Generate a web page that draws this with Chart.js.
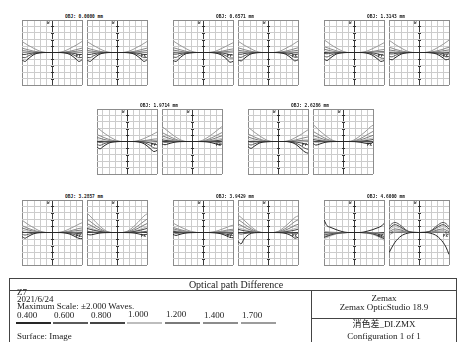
<!DOCTYPE html>
<html><head><meta charset="utf-8">
<script src="https://cdn.jsdelivr.net/npm/chart.js@4"></script>
<style>
html,body{margin:0;padding:0;background:#fff;}
body{width:458px;height:342px;position:relative;overflow:hidden;font-family:"Liberation Serif","Times New Roman",serif;}
canvas{position:absolute;}
.tiny{position:absolute;font-family:"DejaVu Sans Mono",monospace;font-weight:bold;font-size:8px;line-height:1;transform:scale(0.5);white-space:nowrap;color:#222;}
.ttl{font-size:9px;}
.tb{position:absolute;white-space:nowrap;font-size:9px;line-height:1;color:#1a1a1a;}
.ln{position:absolute;background:#444;}
</style></head><body>
<script>
// ---------- data ----------
const FIELDS = ['0.0000','0.6571','1.3143','1.9714','2.6286','3.2857','3.9429','4.6000'];
const WAVELENGTHS = ['0.400','0.600','0.800','1.000','1.200','1.400','1.700'];
const PUPIL = [-1,-0.9,-0.8,-0.6,-0.4,-0.2,0,0.2,0.4,0.6,0.8,0.9,1];
const MAX_SCALE = 2;

const g1_py = [
 [-0.45,-0.55,-0.4,-0.12,-0.02,0,0,0,-0.02,-0.12,-0.4,-0.55,-0.45],
 [-0.3,-0.32,-0.22,-0.06,-0.01,0,0,0,-0.01,-0.06,-0.22,-0.32,-0.3],
 [-0.12,-0.12,-0.08,-0.02,0,0,0,0,0,-0.02,-0.08,-0.12,-0.12],
 [0.02,0.02,0.01,0,0,0,0,0,0,0,0.01,0.02,0.02],
 [0.12,0.1,0.07,0.03,0.01,0,0,0,0.01,0.03,0.07,0.1,0.12],
 [0.27,0.22,0.17,0.08,0.02,0,0,0,0.02,0.08,0.17,0.22,0.27],
 [0.68,0.56,0.45,0.25,0.08,0,0,0,0.08,0.25,0.45,0.56,0.68]];
const g1_px = [
 [-0.45,-0.55,-0.4,-0.12,-0.02,0,0,0,-0.02,-0.12,-0.4,-0.55,-0.45],
 [-0.3,-0.32,-0.22,-0.06,-0.01,0,0,0,-0.01,-0.06,-0.22,-0.32,-0.3],
 [-0.12,-0.12,-0.08,-0.02,0,0,0,0,0,-0.02,-0.08,-0.12,-0.12],
 [0.02,0.02,0.01,0,0,0,0,0,0,0,0.01,0.02,0.02],
 [0.12,0.1,0.07,0.03,0.01,0,0,0,0.01,0.03,0.07,0.1,0.12],
 [0.27,0.22,0.17,0.08,0.02,0,0,0,0.02,0.08,0.17,0.22,0.27],
 [0.68,0.56,0.45,0.25,0.08,0,0,0,0.08,0.25,0.45,0.56,0.68]];
const g2_py = [
 [-0.5,-0.55,-0.38,-0.1,-0.02,0,0,0,-0.03,-0.14,-0.42,-0.6,-0.55],
 [-0.28,-0.3,-0.2,-0.05,-0.01,0,0,0,-0.01,-0.07,-0.24,-0.34,-0.34],
 [-0.1,-0.1,-0.07,-0.02,0,0,0,0,0,-0.02,-0.09,-0.14,-0.15],
 [0.04,0.03,0.02,0,0,0,0,0,0,0,0.01,0.01,0],
 [0.15,0.12,0.08,0.03,0.01,0,0,0,0.01,0.03,0.06,0.08,0.09],
 [0.3,0.25,0.19,0.09,0.02,0,0,0,0.02,0.07,0.15,0.19,0.22],
 [0.72,0.6,0.48,0.27,0.09,0,0,0,0.07,0.23,0.41,0.51,0.6]];
const g2_px = [
 [-0.45,-0.52,-0.38,-0.11,-0.02,0,0,0,-0.02,-0.11,-0.38,-0.52,-0.45],
 [-0.28,-0.3,-0.21,-0.06,-0.01,0,0,0,-0.01,-0.06,-0.21,-0.3,-0.28],
 [-0.1,-0.11,-0.07,-0.02,0,0,0,0,0,-0.02,-0.07,-0.11,-0.1],
 [0.03,0.03,0.02,0,0,0,0,0,0,0,0.02,0.03,0.03],
 [0.14,0.11,0.08,0.03,0.01,0,0,0,0.01,0.03,0.08,0.11,0.14],
 [0.29,0.24,0.18,0.09,0.02,0,0,0,0.02,0.09,0.18,0.24,0.29],
 [0.7,0.58,0.46,0.26,0.08,0,0,0,0.08,0.26,0.46,0.58,0.7]];
const g3_py = [
 [-0.4,-0.5,-0.36,-0.1,-0.02,0,0,0,-0.03,-0.15,-0.42,-0.55,-0.5],
 [-0.22,-0.28,-0.19,-0.05,-0.01,0,0,0,-0.01,-0.07,-0.24,-0.34,-0.36],
 [-0.06,-0.08,-0.05,-0.01,0,0,0,0,0,-0.02,-0.09,-0.14,-0.17],
 [0.07,0.05,0.03,0.01,0,0,0,0,0,0,0,-0.01,-0.02],
 [0.2,0.16,0.11,0.04,0.01,0,0,0,0.01,0.03,0.05,0.06,0.06],
 [0.36,0.3,0.23,0.11,0.03,0,0,0,0.02,0.06,0.13,0.16,0.18],
 [0.78,0.66,0.52,0.29,0.1,0,0,0,0.07,0.22,0.4,0.5,0.6]];
const g3_px = [
 [-0.4,-0.45,-0.33,-0.1,-0.02,0,0,0,-0.02,-0.1,-0.33,-0.45,-0.4],
 [-0.25,-0.27,-0.18,-0.05,-0.01,0,0,0,-0.01,-0.05,-0.18,-0.27,-0.25],
 [-0.08,-0.09,-0.06,-0.02,0,0,0,0,0,-0.02,-0.06,-0.09,-0.08],
 [0.05,0.04,0.03,0.01,0,0,0,0,0,0.01,0.03,0.04,0.05],
 [0.16,0.13,0.1,0.04,0.01,0,0,0,0.01,0.04,0.1,0.13,0.16],
 [0.32,0.27,0.2,0.1,0.03,0,0,0,0.03,0.1,0.2,0.27,0.32],
 [0.76,0.63,0.5,0.28,0.09,0,0,0,0.09,0.28,0.5,0.63,0.76]];
const g4_py = [
 [-0.35,-0.45,-0.32,-0.09,-0.02,0,0,0,-0.03,-0.17,-0.48,-0.62,-0.55],
 [-0.18,-0.24,-0.16,-0.04,-0.01,0,0,0,-0.02,-0.08,-0.28,-0.4,-0.42],
 [-0.02,-0.05,-0.03,-0.01,0,0,0,0,0,-0.03,-0.1,-0.16,-0.2],
 [0.1,0.08,0.05,0.02,0,0,0,0,0,0,-0.01,-0.03,-0.05],
 [0.25,0.2,0.14,0.06,0.01,0,0,0,0.01,0.03,0.04,0.04,0.03],
 [0.42,0.35,0.27,0.13,0.04,0,0,0,0.02,0.06,0.12,0.15,0.16],
 [0.85,0.72,0.57,0.32,0.11,0,0,0,0.07,0.21,0.38,0.48,0.58]];
const g4_px = [
 [-0.15,-0.2,-0.15,-0.05,-0.01,0,0,0,-0.01,-0.05,-0.15,-0.2,-0.15],
 [-0.02,-0.05,-0.04,-0.01,0,0,0,0,0,-0.01,-0.04,-0.05,-0.02],
 [0.1,0.07,0.05,0.02,0,0,0,0,0,0.02,0.05,0.07,0.1],
 [0.2,0.16,0.12,0.05,0.01,0,0,0,0.01,0.05,0.12,0.16,0.2],
 [0.35,0.29,0.22,0.1,0.03,0,0,0,0.03,0.1,0.22,0.29,0.35],
 [0.55,0.46,0.36,0.18,0.05,0,0,0,0.05,0.18,0.36,0.46,0.55],
 [0.92,0.78,0.63,0.35,0.12,0,0,0,0.12,0.35,0.63,0.78,0.92]];
const g5_py = [
 [-0.32,-0.42,-0.3,-0.08,-0.02,0,0,0,-0.03,-0.18,-0.5,-0.65,-0.72],
 [-0.15,-0.22,-0.15,-0.04,-0.01,0,0,0,-0.02,-0.1,-0.3,-0.42,-0.48],
 [0,-0.03,-0.02,0,0,0,0,0,0,-0.03,-0.1,-0.15,-0.2],
 [0.12,0.09,0.06,0.02,0,0,0,0,0,0,0,-0.01,-0.02],
 [0.28,0.22,0.16,0.07,0.02,0,0,0,0.01,0.04,0.07,0.08,0.08],
 [0.46,0.38,0.29,0.14,0.04,0,0,0,0.03,0.1,0.2,0.24,0.28],
 [0.88,0.74,0.59,0.33,0.11,0,0,0,0.08,0.26,0.47,0.6,0.72]];
const g5_px = [
 [-0.12,-0.22,-0.17,-0.05,-0.01,0,0,0,-0.01,-0.05,-0.12,-0.12,-0.05],
 [0,-0.03,-0.02,-0.01,0,0,0,0,0,-0.01,-0.02,-0.03,0],
 [0.12,0.09,0.06,0.02,0,0,0,0,0,0.02,0.06,0.09,0.12],
 [0.22,0.18,0.13,0.06,0.01,0,0,0,0.01,0.06,0.13,0.18,0.22],
 [0.38,0.31,0.24,0.11,0.03,0,0,0,0.03,0.11,0.24,0.31,0.38],
 [0.62,0.52,0.41,0.2,0.06,0,0,0,0.06,0.2,0.41,0.52,0.62],
 [1.05,0.88,0.7,0.39,0.13,0,0,0,0.13,0.39,0.7,0.88,1.0]];
const g6_py = [
 [-0.25,-0.35,-0.25,-0.07,-0.01,0,0,0,-0.02,-0.1,-0.28,-0.36,-0.38],
 [-0.1,-0.16,-0.11,-0.03,0,0,0,0,-0.01,-0.05,-0.16,-0.22,-0.24],
 [0.04,0,0,0,0,0,0,0,0,-0.01,-0.05,-0.07,-0.08],
 [0.15,0.11,0.08,0.03,0,0,0,0,0,0.01,0.03,0.04,0.05],
 [0.28,0.22,0.16,0.07,0.02,0,0,0,0.01,0.05,0.11,0.13,0.15],
 [0.42,0.34,0.26,0.13,0.04,0,0,0,0.03,0.1,0.2,0.25,0.28],
 [0.76,0.63,0.5,0.28,0.09,0,0,0,0.08,0.24,0.42,0.52,0.6]];
const g6_px = [
 [-0.1,-0.15,-0.12,-0.04,-0.01,0,0,0,-0.01,-0.04,-0.12,-0.15,-0.1],
 [0.08,0.05,0.03,0.01,0,0,0,0,0,0.01,0.03,0.05,0.08],
 [0.25,0.2,0.15,0.07,0.02,0,0,0,0.02,0.07,0.15,0.2,0.25],
 [0.35,0.29,0.22,0.1,0.03,0,0,0,0.03,0.1,0.22,0.29,0.35],
 [0.55,0.46,0.36,0.17,0.05,0,0,0,0.05,0.17,0.36,0.46,0.55],
 [0.82,0.69,0.55,0.28,0.08,0,0,0,0.08,0.28,0.55,0.69,0.82],
 [1.2,1.02,0.82,0.44,0.14,0,0,0,0.14,0.44,0.82,1.02,1.15]];
const g7_py = [
 [-0.12,-0.18,-0.13,-0.04,-0.01,0,0,0,-0.02,-0.08,-0.22,-0.3,-0.32],
 [0,-0.05,-0.04,-0.01,0,0,0,0,-0.01,-0.04,-0.12,-0.16,-0.18],
 [0.08,0.05,0.03,0.01,0,0,0,0,0,-0.01,-0.03,-0.05,-0.06],
 [0.14,0.11,0.08,0.03,0.01,0,0,0,0,0.01,0.03,0.04,0.04],
 [0.22,0.18,0.13,0.06,0.02,0,0,0,0.01,0.04,0.08,0.1,0.11],
 [0.32,0.26,0.2,0.1,0.03,0,0,0,0.02,0.07,0.15,0.18,0.2],
 [0.58,0.48,0.38,0.21,0.07,0,0,0,0.06,0.18,0.32,0.4,0.45]];
const g7_px = [
 [-0.55,-0.7,-0.4,-0.08,-0.01,0,0,0,-0.01,-0.06,-0.22,-0.35,-0.3],
 [-0.05,-0.1,-0.07,-0.02,0,0,0,0,0,-0.02,-0.05,-0.08,-0.05],
 [0.2,0.15,0.11,0.05,0.01,0,0,0,0.01,0.05,0.11,0.15,0.2],
 [0.3,0.25,0.19,0.09,0.02,0,0,0,0.02,0.09,0.19,0.25,0.3],
 [0.52,0.44,0.34,0.16,0.05,0,0,0,0.05,0.16,0.34,0.44,0.5],
 [0.8,0.68,0.54,0.27,0.08,0,0,0,0.08,0.27,0.54,0.68,0.78],
 [1.08,0.93,0.76,0.42,0.13,0,0,0,0.13,0.42,0.76,0.93,1.02]];
const g8_py = [
 [0.78,0.42,0.33,0.18,0.06,0,0,0,0.06,0.16,0.3,0.38,0.55],
 [-0.15,-0.12,-0.08,-0.03,-0.01,0,0,0,-0.01,-0.03,-0.1,-0.18,-0.25],
 [-0.3,-0.24,-0.17,-0.07,-0.02,0,0,0,-0.02,-0.08,-0.2,-0.3,-0.38],
 [-0.38,-0.31,-0.23,-0.1,-0.03,0,0,0,-0.03,-0.11,-0.26,-0.37,-0.48],
 [-0.25,-0.2,-0.14,-0.06,-0.02,0,0,0,-0.02,-0.07,-0.17,-0.25,-0.33],
 [-0.05,-0.04,-0.03,-0.01,0,0,0,0,0,-0.02,-0.06,-0.1,-0.15],
 [0.05,0.04,0.03,0.01,0,0,0,0,0,0,-0.02,-0.04,-0.06]];
const g8_px = [
 [-1.25,-0.9,-0.6,-0.22,-0.05,0,0,0,-0.05,-0.22,-0.6,-0.9,-1.35],
 [0.35,0.55,0.62,0.42,0.12,0.01,0,0.01,0.12,0.42,0.62,0.55,0.35],
 [0.2,0.4,0.48,0.32,0.09,0.01,0,0.01,0.09,0.32,0.48,0.4,0.2],
 [0.12,0.28,0.36,0.24,0.07,0.01,0,0.01,0.07,0.24,0.36,0.28,0.12],
 [0.05,0.15,0.22,0.15,0.04,0,0,0,0.04,0.15,0.22,0.15,0.05],
 [-0.05,0.05,0.1,0.08,0.02,0,0,0,0.02,0.08,0.1,0.05,-0.05],
 [-0.15,-0.05,0.02,0.03,0.01,0,0,0,0.01,0.03,0.02,-0.05,-0.15]];

const FANS = [[g1_py,g1_px],[g2_py,g2_px],[g3_py,g3_px],[g4_py,g4_px],
              [g5_py,g5_px],[g6_py,g6_px],[g7_py,g7_px],[g8_py,g8_px]];

// ---------- styles / layout ----------
const WL_COLORS = ['#262626','#5a5a5a','#444444','#bdbdbd','#7a7a7a','#8c8c8c','#9c9c9c'];
const BOX_W = 60, BOX_H = 65, PAIR_DX = 65;
const GROUP_POS = [[22,20],[173,20],[324,20],[97,109],[248,109],[22,200],[173,200],[324,200]];

const body = document.body;
function el(cls, css, text){
  const d = document.createElement('div'); d.className = cls;
  Object.assign(d.style, css); if (text !== undefined) d.textContent = text;
  body.appendChild(d); return d;
}
function tiny(text, x, y, center, extra){
  const w = 120;
  return el('tiny' + (extra ? ' ' + extra : ''), {left:(center ? x - w/2 : x)+'px', top:y+'px', width:w+'px',
    textAlign: center ? 'center' : 'left', transformOrigin: center ? '50% 0' : '0 0'}, text);
}

function gridColor(c){
  const v = c.tick ? c.tick.value : 0;
  if (Math.abs(v) < 1e-9) return '#3a3a3a';
  const s = c.scale;
  if (Math.abs(v - s.min) < 1e-9 || Math.abs(v - s.max) < 1e-9) return '#8c8c8c';
  return '#cccccc';
}
const axisTicks = {
  id:'axisTicks',
  beforeDatasetsDraw(chart){
    const {ctx, scales:{x, y}} = chart;
    const x0 = Math.round(x.getPixelForValue(0)) + 0.5;
    ctx.save(); ctx.strokeStyle = '#333'; ctx.lineWidth = 1;
    y.ticks.forEach(t => {
      if (Math.abs(t.value) >= MAX_SCALE - 1e-9 || Math.abs(t.value) < 1e-9) return;
      const py = Math.round(y.getPixelForValue(t.value)) + 0.5;
      ctx.beginPath(); ctx.moveTo(x0 - 1.5, py); ctx.lineTo(x0 + 1.5, py); ctx.stroke();
    });
    ctx.restore();
  }
};

function makeFan(left, top, series){
  const cv = document.createElement('canvas');
  cv.width = BOX_W + 2; cv.height = BOX_H + 2;
  cv.style.left = (left - 1) + 'px'; cv.style.top = (top - 1) + 'px';
  body.appendChild(cv);
  new Chart(cv.getContext('2d'), {
    type:'line',
    data:{ datasets: series.map((row, i) => ({
      label: WAVELENGTHS[i],
      data: PUPIL.map((p, j) => ({x:p, y:row[j]})),
      borderColor: WL_COLORS[i], borderWidth: 1, pointRadius: 0,
      cubicInterpolationMode: 'monotone', fill: false })) },
    options:{
      animation:false, responsive:false, events:[],
      layout:{padding:1},
      plugins:{legend:{display:false}, tooltip:{enabled:false}},
      scales:{
        x:{type:'linear', min:-1, max:1, ticks:{display:false, stepSize:0.2},
           grid:{drawTicks:false, color:gridColor, lineWidth:1}, border:{display:false}},
        y:{type:'linear', min:-MAX_SCALE, max:MAX_SCALE, ticks:{display:false, stepSize:0.4},
           grid:{drawTicks:false, color:gridColor, lineWidth:1}, border:{display:false}}
      }
    },
    plugins:[axisTicks]
  });
}

GROUP_POS.forEach(([gx, gy], g) => {
  const [py, px] = FANS[g];
  makeFan(gx, gy, py);
  makeFan(gx + PAIR_DX, gy, px);
  tiny('OBJ: ' + FIELDS[g] + ' mm', gx + (PAIR_DX + BOX_W)/2 - 1, gy - 6.5, true, 'ttl');
  [0, PAIR_DX].forEach((dx, k) => {
    tiny('W', gx + dx + BOX_W/2 - 5, gy + 1, false);
    tiny(k === 0 ? 'PY' : 'PX', gx + dx + BOX_W - 6, gy + BOX_H/2 + 1, false);
  });
});

// ---------- bottom table ----------
const T_L = 9, T_R = 457, T_TOP = 278, T_ROW = 290, T_DIV = 311, T_MID = 318;
el('ln', {left:T_L+'px', top:T_TOP+'px', width:(T_R-T_L)+'px', height:'1px'});
el('ln', {left:T_L+'px', top:T_ROW+'px', width:(T_R-T_L)+'px', height:'1px'});
el('ln', {left:T_L+'px', top:T_TOP+'px', width:'1px', height:(342-T_TOP)+'px'});
el('ln', {left:(T_R-1)+'px', top:T_TOP+'px', width:'1px', height:(342-T_TOP)+'px'});
el('ln', {left:T_DIV+'px', top:T_ROW+'px', width:'1px', height:(342-T_ROW)+'px'});
el('ln', {left:T_DIV+'px', top:T_MID+'px', width:(T_R-T_DIV)+'px', height:'1px'});

function txt(s, x, base, center){
  const w = 200;
  return el('tb', {left:(center ? x - w/2 : x)+'px', top:(base-7.5)+'px', width:w+'px',
    textAlign:center ? 'center' : 'left'}, s);
}
const ttl = txt('Optical path Difference', 236, 287.5, true);
ttl.style.fontSize = '10px';
txt('Z7', 17, 295.5);
txt('2021/6/24', 17, 302.5);
txt('Maximum Scale: \u00B1' + MAX_SCALE.toFixed(3) + ' Waves.', 17, 309.5);
const WL_X = [17, 54, 91, 128, 166, 204, 242];
const WL_BASE = [318.5, 318.5, 318, 317, 317, 318.5, 318];
WAVELENGTHS.forEach((w, i) => {
  txt(w, WL_X[i], WL_BASE[i]);
  el('ln', {left:(WL_X[i]-1)+'px', top:'322px', width:'35px', height:'2px', background:WL_COLORS[i]});
});
txt('Surface: Image', 17, 339.5);
const RC = (T_DIV + T_R)/2;
txt('Zemax', RC, 301, true);
txt('Zemax OpticStudio 18.9', RC, 310.5, true);
const cj = txt('消色差_DI.ZMX', RC, 327, true);
cj.style.fontFamily = '"Liberation Serif","Noto Sans CJK SC",serif';
txt('Configuration 1 of 1', RC, 339.5, true);
</script>
</body></html>
